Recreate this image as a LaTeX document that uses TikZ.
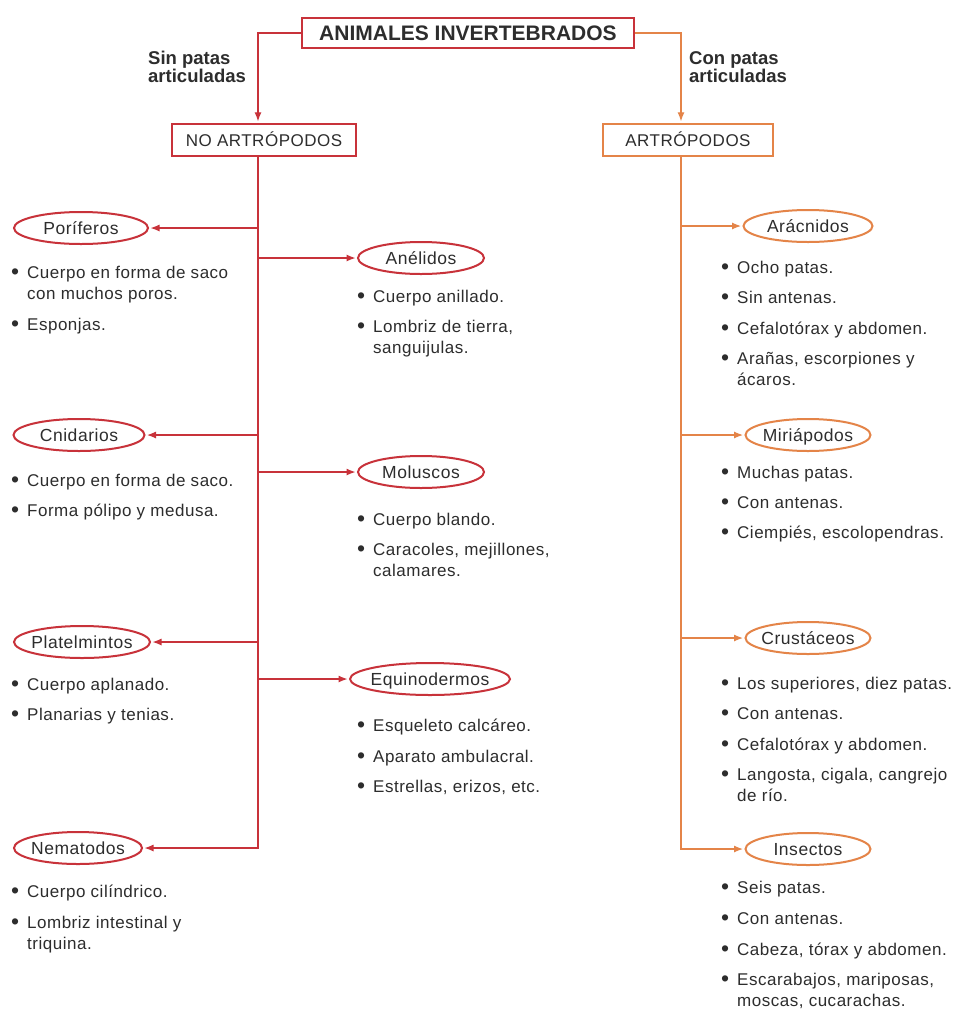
\documentclass[tikz,border=0pt]{standalone}
\usepackage{fontspec}
\setmainfont{Liberation Sans}
\newfontfamily\bodyfont{Liberation Sans}[LetterSpace=3]
\usetikzlibrary{shapes.geometric,arrows.meta}
\definecolor{rojo}{RGB}{200,50,58}
\definecolor{naranja}{RGB}{228,132,72}
\definecolor{texto}{RGB}{45,45,45}
\tikzset{
  titlebox/.style={draw=rojo, line width=2.4pt, inner sep=0, minimum width=332, minimum height=30, text=texto, font=\fontsize{21}{24}\selectfont\bfseries},
  groupbox/.style={line width=2.4pt, inner sep=0, minimum height=32, text height=12.5, text depth=0, text=texto, font=\bodyfont\fontsize{17}{20}\selectfont},
  branchlabel/.style={anchor=north west, inner sep=0, align=left, text=texto, font=\fontsize{18.5}{16.5}\selectfont\bfseries},
  ell/.style={ellipse, line width=2pt, inner sep=0, minimum height=32, text height=12.5, text depth=0, text=texto, font=\bodyfont\fontsize{17.5}{20}\selectfont},
  ellL/.style={ell, draw=rojo},
  ellR/.style={ell, draw=naranja},
  itm/.style={anchor=north west, inner sep=0, align=left, text=texto, font=\bodyfont\fontsize{17}{21}\selectfont},
  lline/.style={draw=rojo, line width=1.2pt},
  rline/.style={draw=naranja, line width=1.2pt},
  tip/.style={-{Latex[length=9pt,width=7pt]}, shorten >=1.5pt},
}
\newcommand\bul{\llap{\raisebox{-0.5pt}{\scalebox{1.35}{\textbullet}}\hspace{8pt}}}
\newcommand\itm[4]{\node[itm] (#1) at (#2,#3-9.2) {\strut\bul #4};}
\newcommand\et[1]{\makebox[0pt]{#1}}
\begin{document}
\begin{tikzpicture}[x=1pt,y=-1pt]
\useasboundingbox (0,0) rectangle (966,1023);
\fill[white] (0,0) rectangle (966,1023);
\coordinate (lt) at (258,0);
\coordinate (rt) at (681,0);

\node[titlebox] (title) at (468,33) {ANIMALES INVERTEBRADOS};
\node[groupbox, draw=rojo, minimum width=184] (noart) at (264,140) {NO ARTRÓPODOS};
\node[groupbox, draw=naranja, minimum width=170] (art) at (688,140) {ARTRÓPODOS};

\node[branchlabel] (sin) at (148,51) {Sin patas\\articuladas};
\node[branchlabel] (con) at (689,51) {Con patas\\articuladas};

\draw[lline, tip] (title.west) -| (noart.north -| lt);
\draw[rline, tip] (title.east) -| (art.north -| rt);

% left groups
\node[ellL, minimum width=134] (pori) at (81,228) {\et{Poríferos}};
\node[ellL, minimum width=126] (aneli) at (421,258) {\et{Anélidos}};
\node[ellL, minimum width=131] (cnid) at (79,435) {\et{Cnidarios}};
\node[ellL, minimum width=126] (molu) at (421,472) {\et{Moluscos}};
\node[ellL, minimum width=136] (plat) at (82,642) {\et{Platelmintos}};
\node[ellL, minimum width=160] (equi) at (430,679) {\et{Equinodermos}};
\node[ellL, minimum width=128] (nema) at (78,848) {\et{Nematodos}};

% right groups
\node[ellR, minimum width=129] (arac) at (808,226) {\et{Arácnidos}};
\node[ellR, minimum width=125] (miri) at (808,435) {\et{Miriápodos}};
\node[ellR, minimum width=125] (crus) at (808,638) {\et{Crustáceos}};
\node[ellR, minimum width=125] (inse) at (808,849) {\et{Insectos}};

% left trunk and branches
\draw[lline, tip] (noart.south -| lt) -- (nema.east -| lt) -- (nema.east);
\draw[lline, tip] (pori.east -| lt) -- (pori.east);
\draw[lline, tip] (aneli.west -| lt) -- (aneli.west);
\draw[lline, tip] (cnid.east -| lt) -- (cnid.east);
\draw[lline, tip] (molu.west -| lt) -- (molu.west);
\draw[lline, tip] (plat.east -| lt) -- (plat.east);
\draw[lline, tip] (equi.west -| lt) -- (equi.west);

% right trunk and branches
\draw[rline, tip] (art.south -| rt) -- (inse.west -| rt) -- (inse.west);
\draw[rline, tip] (arac.west -| rt) -- (arac.west);
\draw[rline, tip] (miri.west -| rt) -- (miri.west);
\draw[rline, tip] (crus.west -| rt) -- (crus.west);

% items left column
\itm{p1}{27}{273}{Cuerpo en forma de saco\\con muchos poros.}
\itm{p2}{27}{325}{Esponjas.}
\itm{c1}{27}{481}{Cuerpo en forma de saco.}
\itm{c2}{27}{511}{Forma pólipo y medusa.}
\itm{pl1}{27}{685}{Cuerpo aplanado.}
\itm{pl2}{27}{715}{Planarias y tenias.}
\itm{n1}{27}{892}{Cuerpo cilíndrico.}
\itm{n2}{27}{923}{Lombriz intestinal y\\triquina.}

% items middle column
\itm{a1}{373}{297}{Cuerpo anillado.}
\itm{a2}{373}{327}{Lombriz de tierra,\\sanguijulas.}
\itm{m1}{373}{520}{Cuerpo blando.}
\itm{m2}{373}{550}{Caracoles, mejillones,\\calamares.}
\itm{e1}{373}{726}{Esqueleto calcáreo.}
\itm{e2}{373}{757}{Aparato ambulacral.}
\itm{e3}{373}{787}{Estrellas, erizos, etc.}

% items right column
\itm{ar1}{737}{268}{Ocho patas.}
\itm{ar2}{737}{298}{Sin antenas.}
\itm{ar3}{737}{329}{Cefalotórax y abdomen.}
\itm{ar4}{737}{359}{Arañas, escorpiones y\\ácaros.}
\itm{mi1}{737}{473}{Muchas patas.}
\itm{mi2}{737}{503}{Con antenas.}
\itm{mi3}{737}{533}{Ciempiés, escolopendras.}
\itm{cr1}{737}{684}{Los superiores, diez patas.}
\itm{cr2}{737}{714}{Con antenas.}
\itm{cr3}{737}{745}{Cefalotórax y abdomen.}
\itm{cr4}{737}{775}{Langosta, cigala, cangrejo\\de río.}
\itm{in1}{737}{888}{Seis patas.}
\itm{in2}{737}{919}{Con antenas.}
\itm{in3}{737}{950}{Cabeza, tórax y abdomen.}
\itm{in4}{737}{980}{Escarabajos, mariposas,\\moscas, cucarachas.}
\end{tikzpicture}
\end{document}
